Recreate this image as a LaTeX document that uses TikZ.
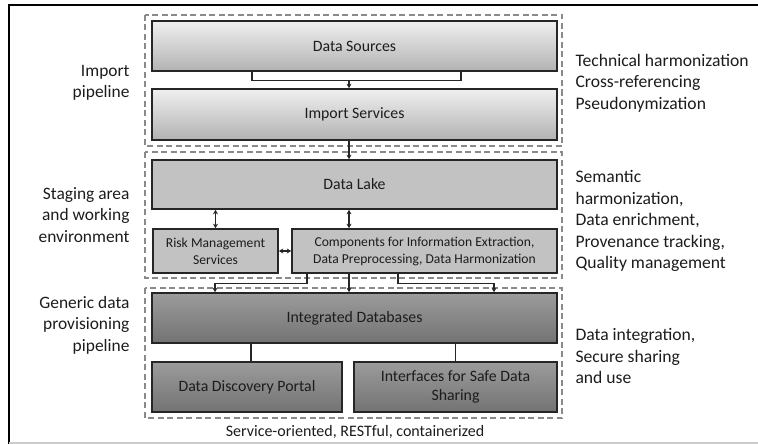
\documentclass[tikz,border=0pt]{standalone}
\usepackage{fontspec}
\setmainfont{Carlito}
\usetikzlibrary{arrows.meta,calc}
\definecolor{txt}{HTML}{1C1C1C}
\definecolor{dashc}{HTML}{8A8A8A}
\tikzset{
  boxbase/.style={draw=black!85, line width=1.6pt, rectangle, inner sep=2pt, align=center, text=txt, font=\fontsize{15.8}{19}\selectfont},
  smalltext/.style={font=\fontsize{13.6}{17}\selectfont},
  topbox/.style={boxbase, top color=gray!12, bottom color=gray!60, minimum width=405pt, minimum height=50pt},
  midbox/.style={boxbase, fill=gray!48},
  lowbox/.style={boxbase, top color=gray!78, bottom color=gray!90!black!100, fill=gray!80},
  grp/.style={draw=dashc, line width=1.4pt, dash pattern=on 6pt off 3.5pt},
  conn/.style={draw=black!85, line width=1.3pt},
  arr/.style={conn, -{Stealth[length=4.5pt,width=5pt]}},
  darr/.style={conn, {Stealth[length=4.5pt,width=5pt]}-{Stealth[length=4.5pt,width=5pt]}},
  sidel/.style={align=right, anchor=east, text=txt, font=\fontsize{17.4}{21.5}\selectfont},
  sider/.style={align=left, anchor=west, text=txt, font=\fontsize{17.6}{21.5}\selectfont},
}
\begin{document}
\begin{tikzpicture}[x=1pt,y=-1pt]
\useasboundingbox (0,0) rectangle (758,444);
% outer frame
\draw[black, line width=1.6pt] (9,444) -- (9,5) -- (758,5);
\draw[gray!40, line width=1.2pt] (9,443) -- (758,443);
% groups
\draw[grp] (145,15) rectangle (562,146);
\draw[grp] (145,152) rectangle (562,278);
\draw[grp] (145,288) rectangle (562,418);
% boxes
\node[topbox] (ds) at (354.5,46) {Data Sources};
\node[topbox, minimum height=51pt] (is) at (354.5,114.5) {Import Services};
\node[midbox, minimum width=405pt, minimum height=49pt] (dl) at (354.5,184.5) {Data Lake};
\node[midbox, smalltext, minimum width=125pt, minimum height=44pt] (risk) at (215.5,251) {Risk Management\\Services};
\node[midbox, smalltext, minimum width=265pt, minimum height=44pt] (comp) at (424.5,251) {Components for Information Extraction,\\Data Preprocessing, Data Harmonization};
\node[lowbox, minimum width=405pt, minimum height=50pt] (idb) at (354.5,318) {Integrated Databases};
\node[lowbox, minimum width=190pt, minimum height=50pt] (ddp) at (247,387) {Data Discovery Portal};
\node[lowbox, minimum width=203pt, minimum height=50pt] (intf) at (455.5,387) {Interfaces for Safe Data\\Sharing};
% helper coordinates
\coordinate (b1) at (252,0);
\coordinate (b2) at (461,0);
\coordinate (bm) at (349,80);
\coordinate (e1) at (307,0);
\coordinate (e1t) at (215,0);
\coordinate (e2) at (398,0);
\coordinate (e2t) at (494,0);
\coordinate (l1) at (251,0);
% connectors
\draw[conn] (ds.south -| b1) -- ++(0,9) -| (ds.south -| b2);
\draw[arr] (bm) -- (bm |- is.north);
\draw[arr] (is.south -| bm) -- (dl.north -| bm);
\draw[darr] (dl.south -| risk.north) -- (risk.north);
\draw[darr] (dl.south -| bm) -- (comp.north -| bm);
\draw[darr] (risk.east) -- (comp.west);
\draw[arr] (comp.south -| e1) -- ++(0,10) -| (idb.north -| e1t);
\draw[arr] (comp.south -| bm) -- (idb.north -| bm);
\draw[arr] (comp.south -| e2) -- ++(0,10) -| (idb.north -| e2t);
\draw[conn] (idb.south -| l1) -- (ddp.north -| l1);
\draw[conn] (idb.south -| intf.north) -- (intf.north);
% side labels
\node[sidel] (lab1) at (133,83) {Import\\pipeline};
\node[sidel] (lab2) at (133,215) {Staging area\\and working\\environment};
\node[sidel] (lab3) at (133,325) {Generic data\\provisioning\\pipeline};
\node[sider] (rl1) at (572,83) {Technical harmonization\\Cross-referencing\\Pseudonymization};
\node[sider] (rl2) at (572,221) {Semantic\\harmonization,\\Data enrichment,\\Provenance tracking,\\Quality management};
\node[sider] (rl3) at (572,356) {Data integration,\\Secure sharing\\and use};
\node[text=txt, font=\fontsize{16}{19}\selectfont] (foot) at (355,432) {Service-oriented, RESTful, containerized};
\end{tikzpicture}
\end{document}
